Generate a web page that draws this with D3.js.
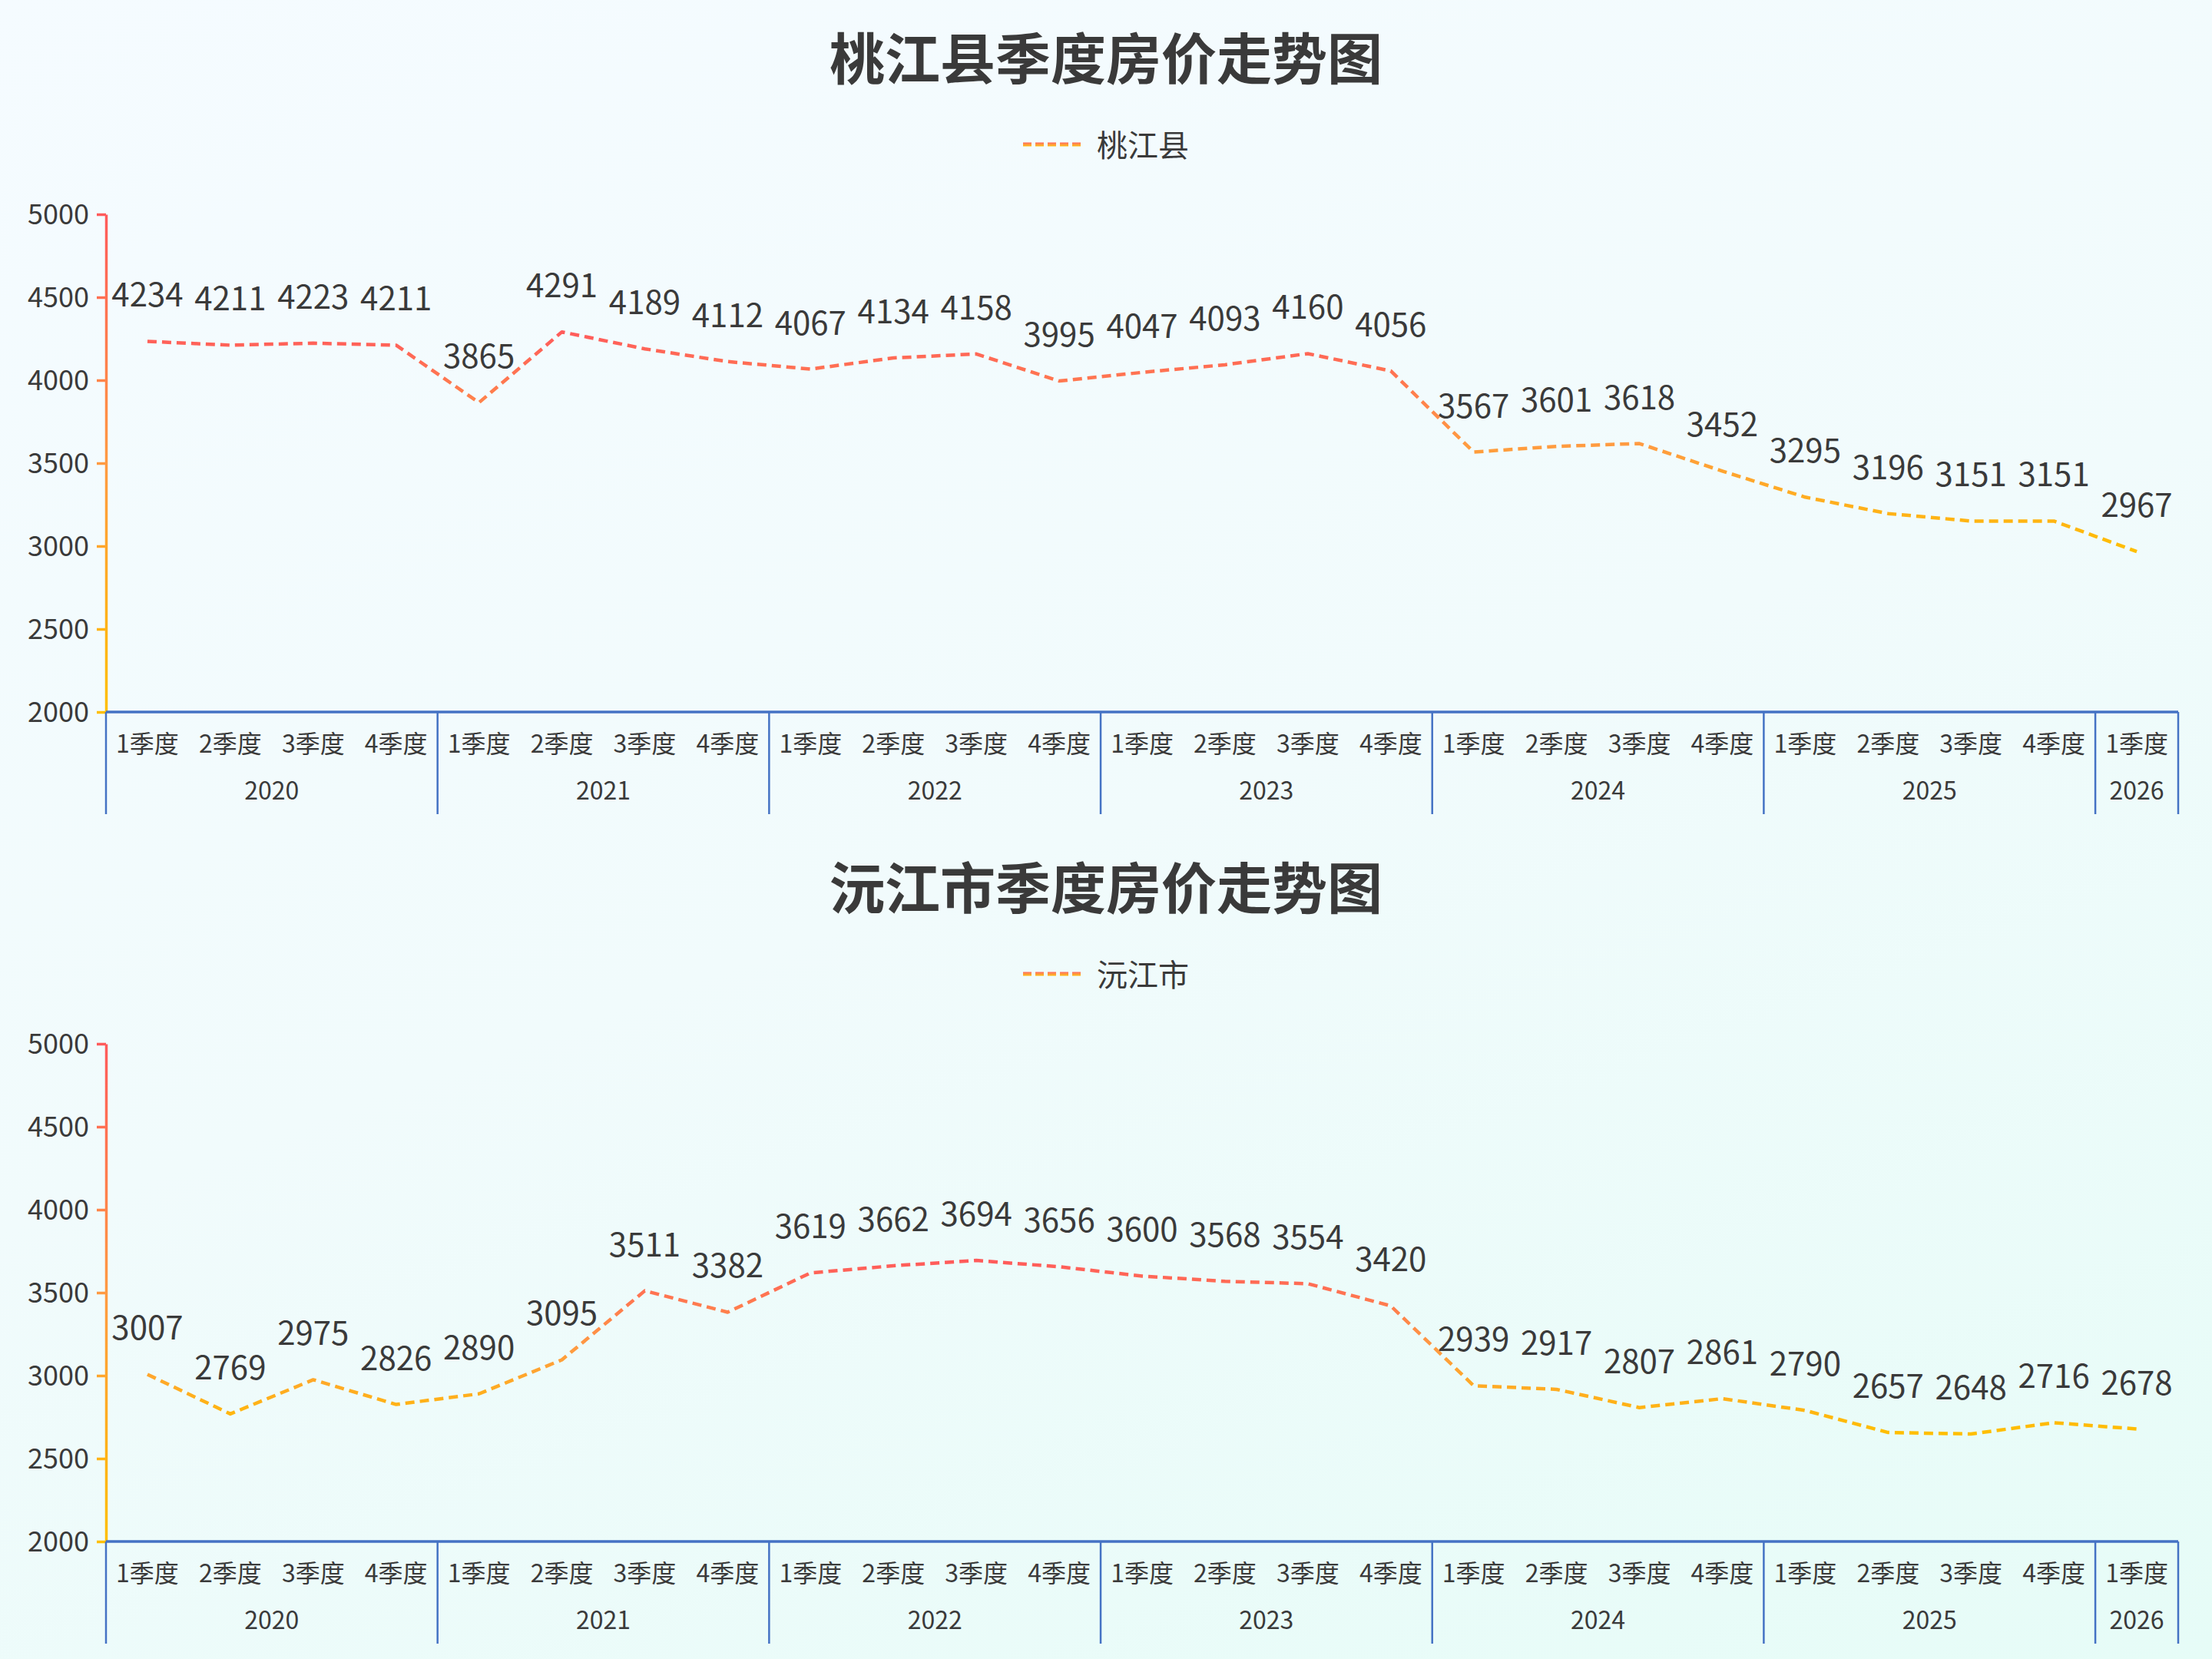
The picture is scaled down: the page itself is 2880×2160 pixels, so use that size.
<!DOCTYPE html>
<html lang="zh">
<head>
<meta charset="utf-8">
<title>季度房价走势图</title>
<script src="https://d3js.org/d3.v7.min.js"></script>
<style>
  html, body { margin: 0; padding: 0; }
  body {
    width: 2880px; height: 2160px; overflow: hidden;
    background: linear-gradient(160deg, #f5fbff 0%, #f1fbfc 50%, #e6fcf7 100%);
    font-family: "Noto Sans CJK SC", "Noto Sans", sans-serif;
  }
  svg text { fill: #3a3a3a; }
</style>
</head>
<body>
<script>
// data
const years = ["2020", "2021", "2022", "2023", "2024", "2025", "2026"];
const quartersPerYear = [4, 4, 4, 4, 4, 4, 1];
const quarterNames = ["1季度", "2季度", "3季度", "4季度"];
const yTicks = [2000, 2500, 3000, 3500, 4000, 4500, 5000];

const taojiangPrices = [4234, 4211, 4223, 4211, 3865, 4291, 4189, 4112, 4067, 4134, 4158, 3995,
                        4047, 4093, 4160, 4056, 3567, 3601, 3618, 3452, 3295, 3196, 3151, 3151, 2967];
const yuanjiangPrices = [3007, 2769, 2975, 2826, 2890, 3095, 3511, 3382, 3619, 3662, 3694, 3656,
                         3600, 3568, 3554, 3420, 2939, 2917, 2807, 2861, 2790, 2657, 2648, 2716, 2678];

const charts = [
  { title: "桃江县季度房价走势图", name: "桃江县", values: taojiangPrices },
  { title: "沅江市季度房价走势图", name: "沅江市", values: yuanjiangPrices }
];

// layout
const W = 2880, H = 2160, chartH = 1080;
const plotLeft = 138, plotRight = 2836, plotTop = 279, plotBottom = 927;
const gradStops = ["#ff5b5b", "#ff9a42", "#ffbf00"];
const font = '"Noto Sans CJK SC", "Noto Sans", sans-serif';

// category list built from years / quarters
const cats = [];
years.forEach((yr, i) => {
  for (let q = 0; q < quartersPerYear[i]; q++) cats.push({ year: yr, q: quarterNames[q] });
});

const svg = d3.select("body").append("svg")
  .attr("width", W).attr("height", H)
  .style("font-family", font);
const defs = svg.append("defs");

const x = d3.scaleBand().domain(d3.range(cats.length)).range([plotLeft, plotRight]);
const y = d3.scaleLinear().domain([2000, 5000]).range([plotBottom, plotTop]);
const axisColor = d3.scaleLinear().domain([5000, 3500, 2000]).range(gradStops);

function addGradient(id, y1, y2) {
  const g = defs.append("linearGradient").attr("id", id)
    .attr("gradientUnits", "userSpaceOnUse")
    .attr("x1", 0).attr("x2", 0).attr("y1", y1).attr("y2", y2);
  g.selectAll("stop").data(gradStops).join("stop")
    .attr("offset", (d, i) => i / (gradStops.length - 1))
    .attr("stop-color", d => d);
}

charts.forEach((c, ci) => {
  const g = svg.append("g").attr("transform", `translate(0,${ci * chartH})`);

  // title
  g.append("text").attr("x", W / 2).attr("y", 103)
    .attr("text-anchor", "middle")
    .style("font-size", "72px").style("font-weight", "bold")
    .text(c.title);

  // legend
  addGradient("leg" + ci, 185, 191);
  g.append("line").attr("x1", 1332).attr("x2", 1407).attr("y1", 188).attr("y2", 188)
    .attr("stroke", `url(#leg${ci})`).attr("stroke-width", 5)
    .attr("stroke-dasharray", "11 5");
  g.append("text").attr("x", 1428).attr("y", 204)
    .style("font-size", "40px").text(c.name);

  // y axis
  addGradient("yax" + ci, plotTop, plotBottom);
  const yAxis = g.append("g").attr("transform", `translate(${plotLeft},0)`)
    .call(d3.axisLeft(y).tickValues(yTicks).tickFormat(d3.format("d"))
      .tickSize(12).tickSizeOuter(0).tickPadding(10));
  yAxis.select(".domain").attr("stroke", `url(#yax${ci})`).attr("stroke-width", 3.5);
  yAxis.selectAll(".tick line").attr("stroke", d => axisColor(d)).attr("stroke-width", 3.5);
  yAxis.selectAll(".tick text").attr("fill", "#3a3a3a")
    .style("font-size", "36px").style("font-family", font).attr("dy", "0.36em");

  // x axis: quarter labels
  const xAxis = g.append("g").attr("transform", `translate(0,${plotBottom})`)
    .call(d3.axisBottom(x).tickSize(0).tickPadding(0).tickFormat(i => cats[i].q));
  xAxis.select(".domain").remove();
  xAxis.selectAll(".tick text").attr("fill", "#3a3a3a").attr("dy", null).attr("y", 53)
    .style("font-size", "32px").style("font-family", font);
  g.append("line").attr("x1", plotLeft).attr("x2", plotRight)
    .attr("y1", plotBottom).attr("y2", plotBottom)
    .attr("stroke", "#4472c4").attr("stroke-width", 3.5);

  // year groups
  let start = 0;
  const bounds = [0];
  const groups = years.map((yr, i) => {
    const s = start; start += quartersPerYear[i]; bounds.push(start);
    return { yr, s, e: start };
  });
  const edgeX = b => b < cats.length ? x(b) : x(cats.length - 1) + x.bandwidth();
  g.selectAll(".sep").data(bounds).join("line").attr("class", "sep")
    .attr("x1", edgeX).attr("x2", edgeX)
    .attr("y1", plotBottom).attr("y2", 1060)
    .attr("stroke", "#4472c4").attr("stroke-width", 2.5);
  g.selectAll(".yr").data(groups).join("text").attr("class", "yr")
    .attr("x", d => (edgeX(d.s) + edgeX(d.e)) / 2)
    .attr("y", 1041).attr("text-anchor", "middle")
    .style("font-size", "32px").text(d => d.yr);

  // line
  const lineTop = y(d3.max(c.values)), lineBot = y(d3.min(c.values));
  addGradient("ln" + ci, lineTop, lineBot);
  const line = d3.line().x((d, i) => x(i) + x.bandwidth() / 2).y(d => y(d));
  g.append("path").datum(c.values).attr("d", line)
    .attr("fill", "none").attr("stroke", `url(#ln${ci})`)
    .attr("stroke-width", 4.5).attr("stroke-dasharray", "12 7")
    .attr("stroke-linejoin", "round");

  // data labels
  g.selectAll(".lbl").data(c.values).join("text").attr("class", "lbl")
    .attr("x", (d, i) => x(i) + x.bandwidth() / 2)
    .attr("y", d => y(d) - 45)
    .attr("text-anchor", "middle")
    .style("font-size", "42px")
    .text(d => d);
});
</script>
</body>
</html>
